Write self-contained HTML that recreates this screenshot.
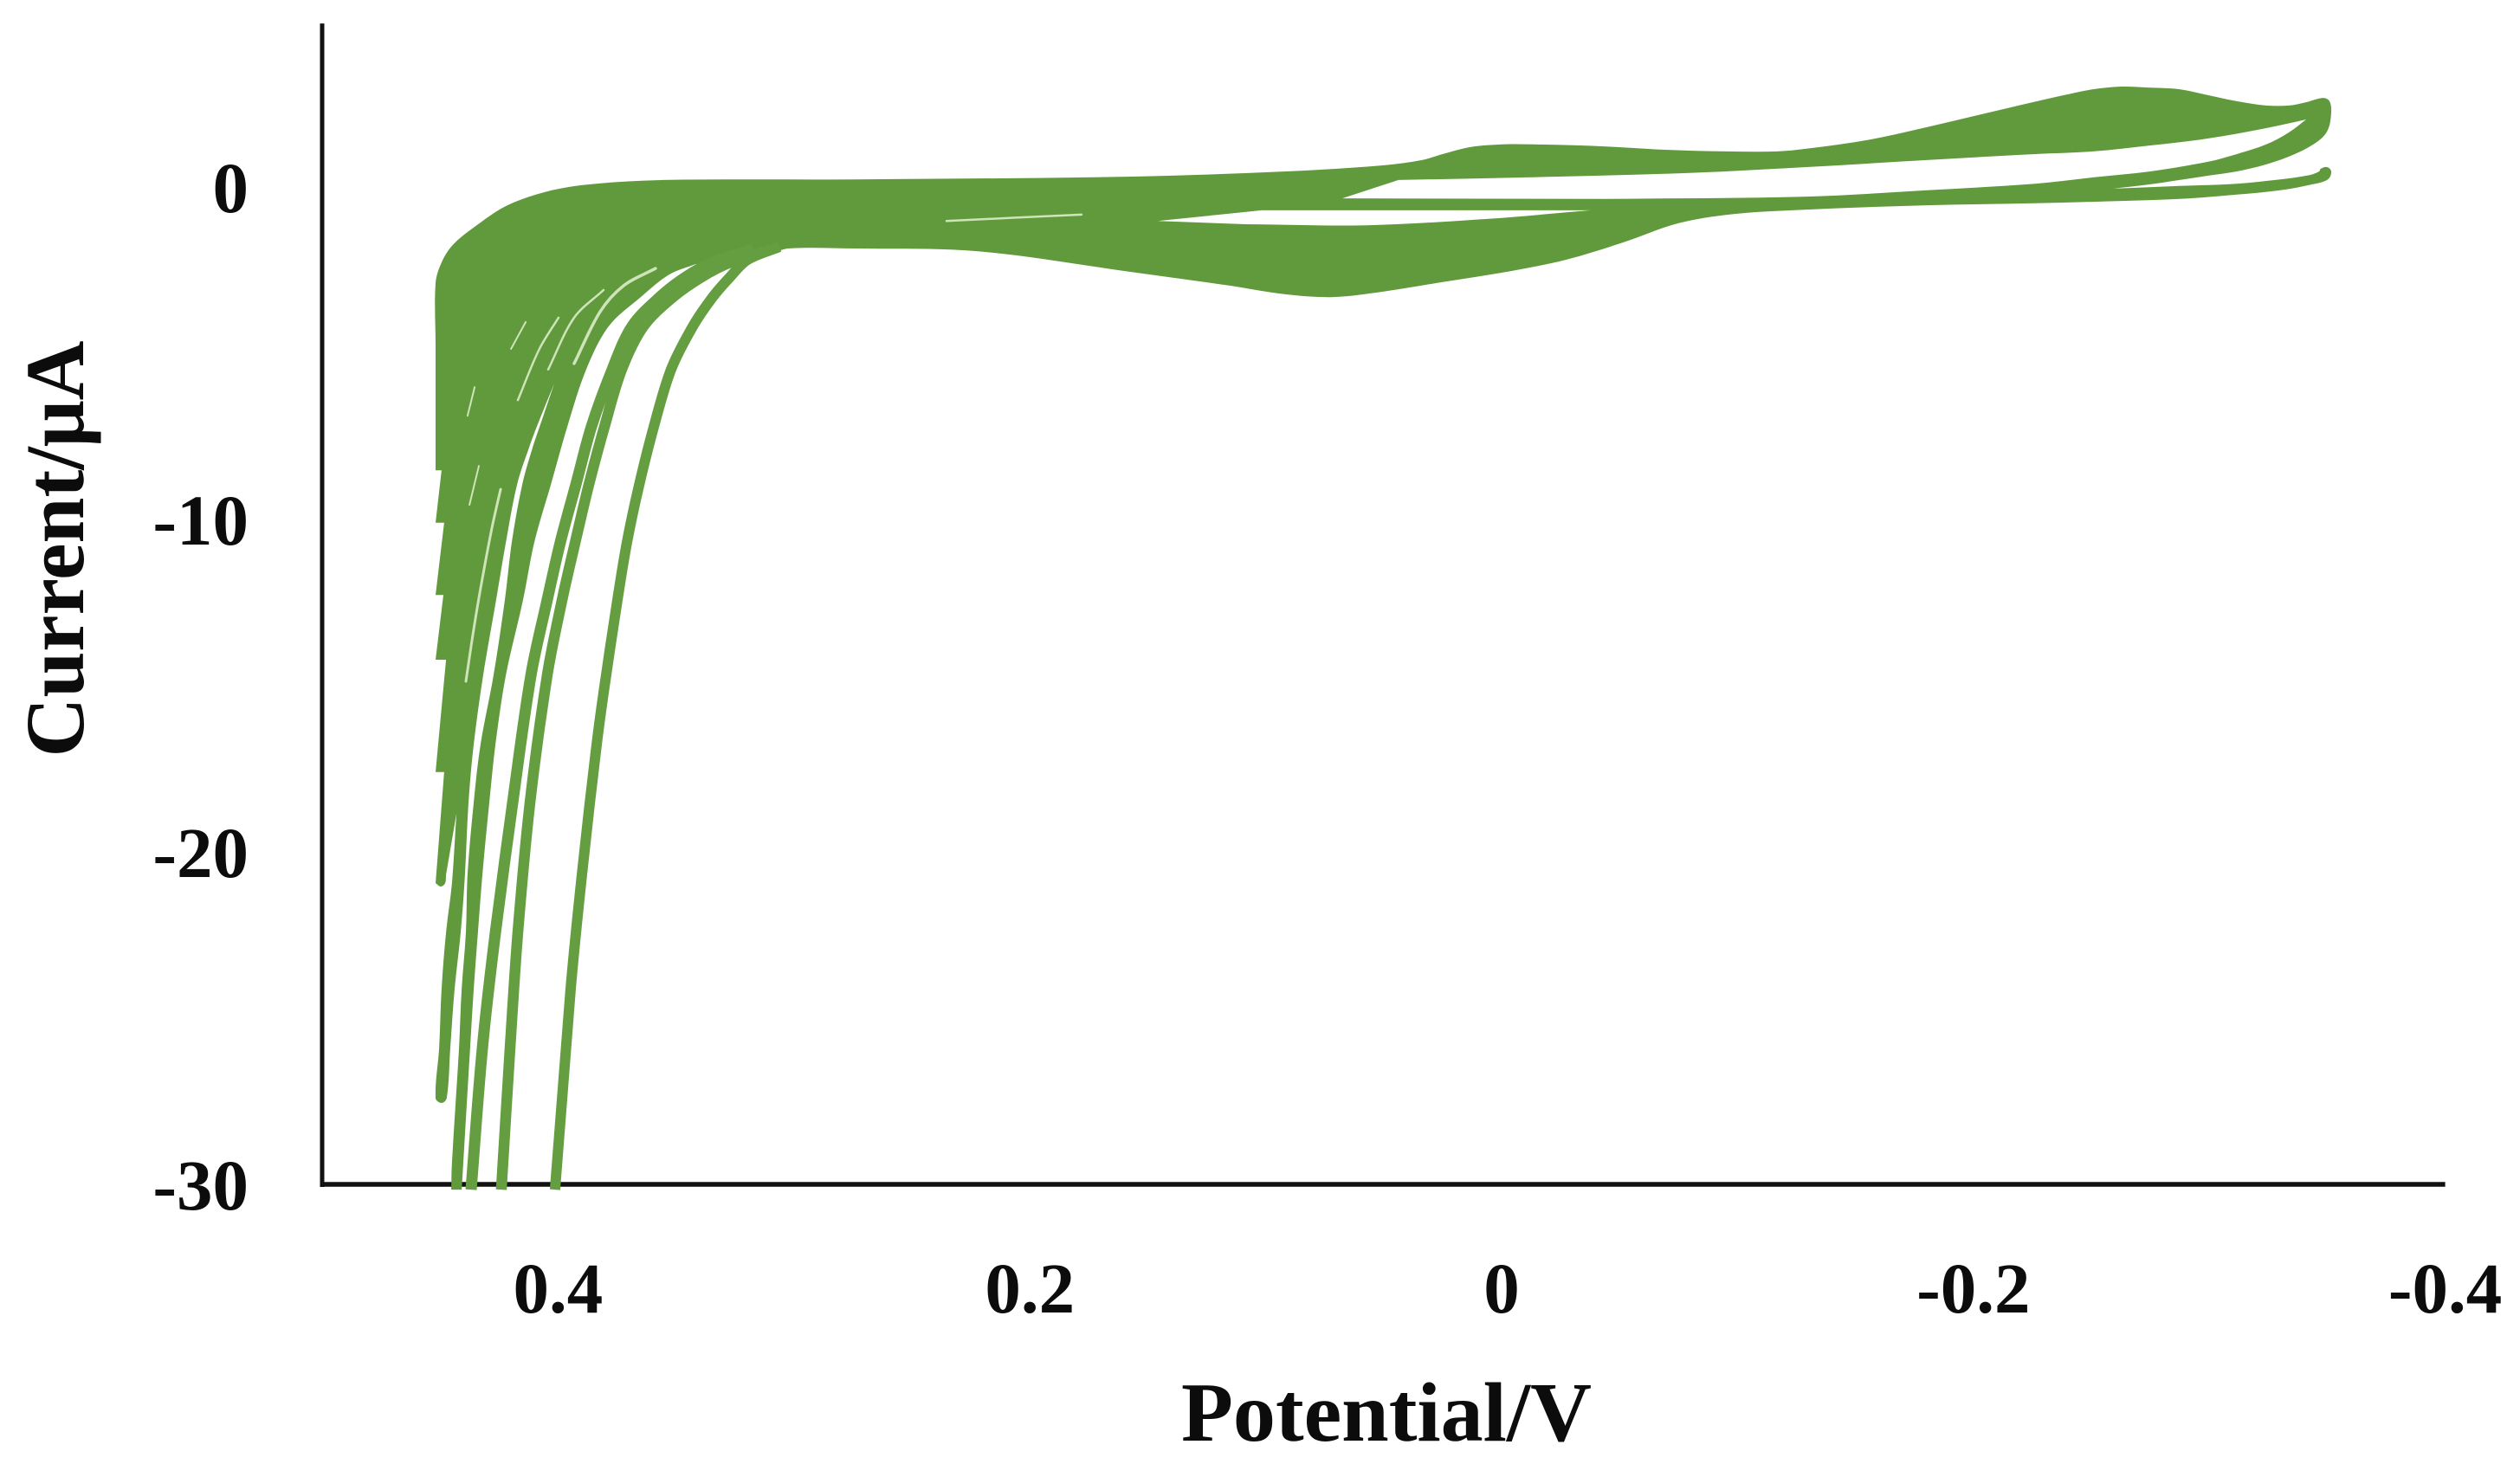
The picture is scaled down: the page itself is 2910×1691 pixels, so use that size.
<!DOCTYPE html>
<html lang="en">
<head>
<meta charset="utf-8">
<title>Cyclic voltammogram</title>
<style>
  html, body { margin: 0; padding: 0; background: #ffffff; }
  svg { display: block; }
  text { font-family: "Liberation Serif", serif; font-weight: bold; fill: #0c0c0c; }
</style>
</head>
<body>
<svg id="chart" xmlns="http://www.w3.org/2000/svg" width="2910" height="1691" viewBox="0 0 2910 1691">
  <rect x="0" y="0" width="2910" height="1691" fill="#ffffff"></rect>
  <g id="axes"></g>
  <g id="series"></g>
  <g id="labels"></g>
  <text x="1601" y="1664" text-anchor="middle" font-size="98" textLength="474" lengthAdjust="spacingAndGlyphs">Potential/V</text>
  <text transform="translate(96 634) rotate(-90)" text-anchor="middle" font-size="96" textLength="481" lengthAdjust="spacingAndGlyphs">Current/μA</text>
</svg>
<script>
// Tick values
const xTicks = [0.4, 0.2, 0, -0.2, -0.4];
const yTicks = [0, -10, -20, -30];

// Outline of the overlapping cycles: potential (V) and current (µA)
const envelopeV = [0.4520,0.4520,0.4520,0.4495,0.4447,0.4359,0.4216,0.4029,0.3842,0.3560,0.2744,0.1601,0.0923,0.0513,0.0348,0.0260,0.0143,0.0007,-0.0128,-0.0432,-0.0681,-0.0941,-0.1154,-0.1278,-0.1549,-0.1788,-0.2128,-0.2366,-0.2491,-0.2612,-0.2733,-0.2857,-0.2978,-0.3099,-0.3223,-0.3319,-0.3392,-0.3465,-0.3491,-0.3498,-0.3484,-0.3443,-0.3344,-0.3223,-0.3099,-0.2978,-0.2857,-0.2733,-0.2575,-0.2857,-0.3099,-0.3282,-0.3407,-0.3447,-0.3454,-0.3480,-0.3498,-0.3484,-0.3418,-0.3282,-0.3099,-0.2857,-0.2612,-0.2245,-0.1788,-0.1278,-0.0974,-0.0736,-0.0502,-0.0260,-0.0026,0.0245,0.0516,0.0722,0.0923,0.1158,0.1601,0.2231,0.2744,0.3029,0.3103,0.3212,0.3421,0.3531,0.3652,0.3788,0.3883,0.3963,0.4033,0.4103,0.4150,0.4223,0.4267,0.4293,0.4322,0.4341,0.4359,0.4374,0.4403,0.4410,0.4454,0.4451,0.4421,0.4410,0.4392,0.4385,0.4359,0.4330,0.4275,0.4227,0.4198,0.4154,0.4110,0.4073,0.4018,0.4084,0.4125,0.4176,0.4223,0.4264,0.4319,0.4359,0.4381,0.4396,0.4414,0.4440,0.4458,0.4473,0.4495,0.4520,0.4505,0.4495,0.4476,0.4451,0.4432,0.4476,0.4480,0.4498,0.4520,0.4484,0.4520,0.4476,0.4520,0.4487,0.4520,0.4484,0.4520,0.4495];
const envelopeI = [-8.52,-4.79,-2.89,-2.27,-1.74,-1.22,-0.55,-0.10,0.10,0.21,0.23,0.31,0.47,0.65,0.81,0.99,1.20,1.28,1.28,1.22,1.12,1.07,1.07,1.15,1.43,1.80,2.37,2.76,2.94,3.02,2.99,2.94,2.76,2.58,2.45,2.45,2.55,2.68,2.58,2.24,1.72,1.38,0.99,0.68,0.47,0.34,0.21,0.08,-0.05,0.03,0.10,0.23,0.36,0.47,0.55,0.60,0.47,0.23,0.08,-0.10,-0.23,-0.36,-0.42,-0.49,-0.55,-0.68,-0.81,-1.09,-1.67,-2.19,-2.53,-2.84,-3.15,-3.31,-3.23,-2.97,-2.53,-1.93,-1.85,-1.85,-2.01,-2.16,-2.32,-2.63,-3.31,-4.19,-5.49,-7.21,-8.96,-10.70,-12.42,-14.69,-16.77,-18.52,-20.68,-22.42,-24.14,-25.89,-29.35,-30.16,-30.16,-29.35,-25.89,-24.14,-22.42,-20.68,-18.52,-16.77,-14.69,-12.42,-10.70,-8.96,-7.84,-7.06,-5.91,-7.06,-7.84,-8.96,-10.70,-12.42,-14.69,-16.77,-18.52,-20.68,-22.42,-24.14,-25.89,-27.40,-27.55,-27.40,-25.89,-24.14,-22.42,-20.94,-18.85,-20.68,-20.94,-21.04,-20.94,-17.60,-17.60,-14.22,-14.22,-12.27,-12.27,-10.10,-10.10,-8.52];
const envelopeCorners = [0,48,81,82,99,100,114,134,135,138,139,140,141,142,143,144,145,146,147];

// Open loops inside the envelope
const loopUpperV = [0.0685,0.0447,-0.0095,-0.0773,-0.1278,-0.1788,-0.2245,-0.2491,-0.2733,-0.2978,-0.3223,-0.3392,-0.3319,-0.3223,-0.3099,-0.2978,-0.2733,-0.2491,-0.2245,-0.1788,-0.1278,-0.0432];
const loopUpperI = [-0.34,0.21,0.29,0.42,0.60,0.81,0.99,1.07,1.25,1.46,1.77,2.03,1.64,1.28,0.99,0.76,0.47,0.29,0.10,-0.10,-0.29,-0.36];
const loopUpperCorners = [0,1,11,21];
const loopLowerV = [0.1465,0.1026,-0.0366,0.0073,0.0582,0.1095];
const loopLowerI = [-1.02,-0.70,-0.70,-0.96,-1.15,-1.12];
const loopLowerCorners = [0,1,2];

// Individual cycles that separate from the envelope at high potential
const cycleBV = [0.4370,0.4322,0.4267,0.4194,0.4117,0.4048,0.3993,0.3927,0.3861,0.3773,0.3689,0.3571,0.3462,0.3348,0.3176];
const cycleBI = [-30.16,-25.89,-22.42,-18.52,-14.69,-12.42,-10.70,-8.96,-7.21,-5.49,-4.19,-3.31,-2.71,-2.27,-1.88];
const cycleCV = [0.4242,0.4205,0.4172,0.4121,0.4048,0.3985,0.3930,0.3872,0.3806,0.3733,0.3641,0.3516,0.3396,0.3275,0.3103];
const cycleCI = [-30.16,-25.89,-22.42,-18.52,-14.69,-12.42,-10.70,-8.96,-7.21,-5.49,-4.19,-3.31,-2.71,-2.27,-1.88];
const cycleDV = [0.4015,0.3949,0.3901,0.3839,0.3799,0.3751,0.3711,0.3659,0.3597,0.3524,0.3432,0.3348,0.3275,0.3201,0.3066];
const cycleDI = [-30.16,-24.14,-20.68,-16.77,-14.69,-12.42,-10.70,-8.96,-7.21,-5.49,-4.19,-3.31,-2.71,-2.19,-1.80];

// Narrow gaps between neighbouring cycles
const gapAV = [0.4201,0.4139];
const gapAI = [-4.87,-4.06];
const gapBV = [0.4172,0.4081,0.4000];
const gapBI = [-6.41,-4.87,-3.93];
const gapCV = [0.4044,0.3934,0.3810];
const gapCI = [-5.49,-3.93,-3.10];
const gapDV = [0.3934,0.3824,0.3725,0.3590];
const gapDI = [-5.31,-3.75,-2.97,-2.45];
const gapEV = [0.4385,0.4355];
const gapEI = [-6.88,-6.02];
const gapFV = [0.4377,0.4337];
const gapFI = [-9.56,-8.39];
const gapGV = [0.4392,0.4359,0.4330,0.4282,0.4245];
const gapGI = [-14.87,-13.31,-12.08,-10.26,-9.09];
const gapHV = [0.2359,0.1788];
const gapHI = [-1.02,-0.83];

const NS = 'http://www.w3.org/2000/svg';
const axesGroup = document.getElementById('axes');
const seriesGroup = document.getElementById('series');
const labelsGroup = document.getElementById('labels');

// Axis functions: potential decreases to the right
function xScale(v) { return 1737 - v * 2730; }
function yScale(i) { return 216 - i * 38.4; }
function tickX(v) { return 1734 - v * 2724; }

// Smooth path through the points, restarting at each corner index.
// Tangents are unit vectors and handle lengths follow the chord, so uneven spacing gives no kinks.
function outlinePath(vs, is, corners) {
  const px = vs.map(xScale);
  const py = is.map(yScale);
  const n = px.length;
  function tangent(k, a, b) {
    const i0 = Math.max(k - 1, a);
    const i1 = Math.min(k + 1, b);
    const dx = px[i1] - px[i0];
    const dy = py[i1] - py[i0];
    const len = Math.hypot(dx, dy) || 1;
    return [dx / len, dy / len];
  }
  let d = 'M' + px[0].toFixed(1) + ' ' + py[0].toFixed(1);
  for (let j = 0; j < corners.length; j++) {
    const a = corners[j];
    const b = j + 1 < corners.length ? corners[j + 1] : n - 1;
    for (let k = a; k < b; k++) {
      const chord = Math.hypot(px[k + 1] - px[k], py[k + 1] - py[k]) / 3;
      const t0 = tangent(k, a, b);
      const t1 = tangent(k + 1, a, b);
      d += 'C' + (px[k] + t0[0] * chord).toFixed(1) + ' ' + (py[k] + t0[1] * chord).toFixed(1) + ' ' + (px[k + 1] - t1[0] * chord).toFixed(1) + ' ' + (py[k + 1] - t1[1] * chord).toFixed(1) + ' ' + px[k + 1].toFixed(1) + ' ' + py[k + 1].toFixed(1);
    }
  }
  return d;
}

// Axes
const yAxis = document.createElementNS(NS, 'line');


yAxis.setAttribute('x1', xScale(0.5));
yAxis.setAttribute('x2', xScale(0.5));
yAxis.setAttribute('y1', yScale(4.92));
yAxis.setAttribute('y2', yScale(-30) + 3);
yAxis.setAttribute('stroke', '#111111');
yAxis.setAttribute('stroke-width', '5');
axesGroup.appendChild(yAxis);

const xAxis = document.createElementNS(NS, 'line');


xAxis.setAttribute('x1', xScale(0.5) - 2.5);
xAxis.setAttribute('x2', tickX(-0.4));
xAxis.setAttribute('y1', yScale(-30));
xAxis.setAttribute('y2', yScale(-30));
xAxis.setAttribute('stroke', '#111111');
xAxis.setAttribute('stroke-width', '5.5');
axesGroup.appendChild(xAxis);

// Filled envelope with the two open loops cut out
const envelope = document.createElementNS(NS, 'path');


envelope.setAttribute('d', outlinePath(envelopeV, envelopeI, envelopeCorners) + 'Z' + outlinePath(loopUpperV, loopUpperI, loopUpperCorners) + 'Z' + outlinePath(loopLowerV, loopLowerI, loopLowerCorners) + 'Z');
envelope.setAttribute('fill', '#619a3d');
envelope.setAttribute('fill-rule', 'evenodd');
seriesGroup.appendChild(envelope);

function drawCycle(vs, is, width) {
  const cycle = document.createElementNS(NS, 'path');
  
  
  cycle.setAttribute('d', outlinePath(vs, is, [0]));
  cycle.setAttribute('fill', 'none');
  cycle.setAttribute('stroke', '#659e41');
  cycle.setAttribute('stroke-width', width);
  seriesGroup.appendChild(cycle);
}

function drawGap(vs, is, width) {
  const gap = document.createElementNS(NS, 'path');
  
  
  gap.setAttribute('d', outlinePath(vs, is, [0]));
  gap.setAttribute('fill', 'none');
  gap.setAttribute('stroke', '#cfe4b8');
  gap.setAttribute('stroke-width', width);
  gap.setAttribute('stroke-linecap', 'round');
  seriesGroup.appendChild(gap);
}

drawCycle(cycleBV, cycleBI, 13);
drawCycle(cycleCV, cycleCI, 12.5);
drawCycle(cycleDV, cycleDI, 12);

drawGap(gapAV, gapAI, 2);
drawGap(gapBV, gapBI, 2.5);
drawGap(gapCV, gapCI, 2.5);
drawGap(gapDV, gapDI, 3.5);
drawGap(gapEV, gapEI, 2);
drawGap(gapFV, gapFI, 2);
drawGap(gapGV, gapGI, 3);
drawGap(gapHV, gapHI, 2.5);

// Tick labels
xTicks.forEach(function (t) {
  const label = document.createElementNS(NS, 'text');
  
  
  label.setAttribute('x', tickX(t));
  label.setAttribute('y', 1516);
  label.setAttribute('text-anchor', 'middle');
  label.setAttribute('font-size', '83');
  label.textContent = String(t);
  labelsGroup.appendChild(label);
});

yTicks.forEach(function (t) {
  const label = document.createElementNS(NS, 'text');
  
  
  label.setAttribute('x', 287);
  label.setAttribute('y', yScale(t) + 29);
  label.setAttribute('text-anchor', 'end');
  label.setAttribute('font-size', '83');
  label.textContent = String(t);
  labelsGroup.appendChild(label);
});
</script>
</body>
</html>
